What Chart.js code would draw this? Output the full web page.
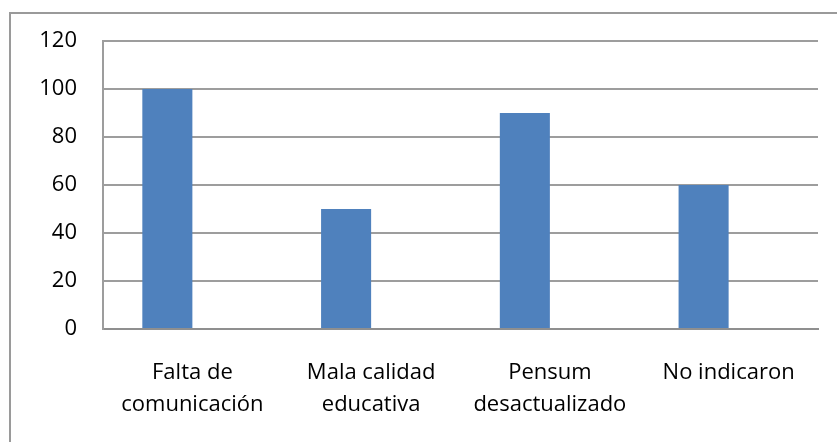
<!DOCTYPE html>
<html>
<head>
<meta charset="utf-8">
<script src="https://cdn.jsdelivr.net/npm/chart.js@4.4.0/dist/chart.umd.min.js"></script>
<style>
  html, body { margin: 0; padding: 0; background: #fff; }
  #wrap { width: 837px; height: 442px; }
</style>
</head>
<body>
<div id="wrap"><canvas id="chart"></canvas></div>
<script>
// categories and values
const categories = [['Falta de', 'comunicación'], ['Mala calidad', 'educativa'], ['Pensum', 'desactualizado'], 'No indicaron'];
const values = [100, 50, 90, 60];
// the sheet had a second, empty series, so every bar sits left of its label
const emptySeries = [];
const yMin = 0, yMax = 120, yStep = 20;

// grey frame round the whole chart, like the Excel chart area
const frame = {
  id: 'frame',
  beforeDraw(chart) {
    const c = chart.ctx;
    c.save();
    c.strokeStyle = '#9a9a9a';
    c.lineWidth = 2;
    c.strokeRect(10, 13, chart.width + 20, chart.height + 20);
    c.restore();
  }
};

const font = { family: '"Open Sans", Lato, sans-serif', size: 22 };

new Chart(document.getElementById('chart').getContext('2d'), {
  type: 'bar',
  data: {
    labels: categories,
    datasets: [
      { label: 'Serie 1', data: values, backgroundColor: '#4F81BD', categoryPercentage: 0.56, barPercentage: 1 },
      { label: 'Serie 2', data: emptySeries, backgroundColor: '#C0504D', categoryPercentage: 0.56, barPercentage: 1 }
    ]
  },
  options: {
    responsive: true,
    maintainAspectRatio: false,
    animation: false,
    layout: { padding: { left: 0, top: 41, right: 19, bottom: 0 } },
    plugins: { legend: { display: false }, tooltip: { enabled: false } },
    scales: {
      x: {
        grid: { display: false },
        border: { display: true, color: '#8f8f8f', width: 2 },
        ticks: { color: '#000', font: { ...font, lineHeight: '32px' }, padding: 20, maxRotation: 0, autoSkip: false },
        afterFit(s) { s.height = 113; }
      },
      y: {
        min: yMin,
        max: yMax,
        ticks: { stepSize: yStep, color: '#000', font: font, padding: 26 },
        grid: { color: '#9d9d9d', lineWidth: 2, drawTicks: false },
        border: { display: true, color: '#9d9d9d', width: 2 },
        afterFit(s) { s.width = 103; }
      }
    }
  },
  plugins: [frame]
});
</script>
</body>
</html>
